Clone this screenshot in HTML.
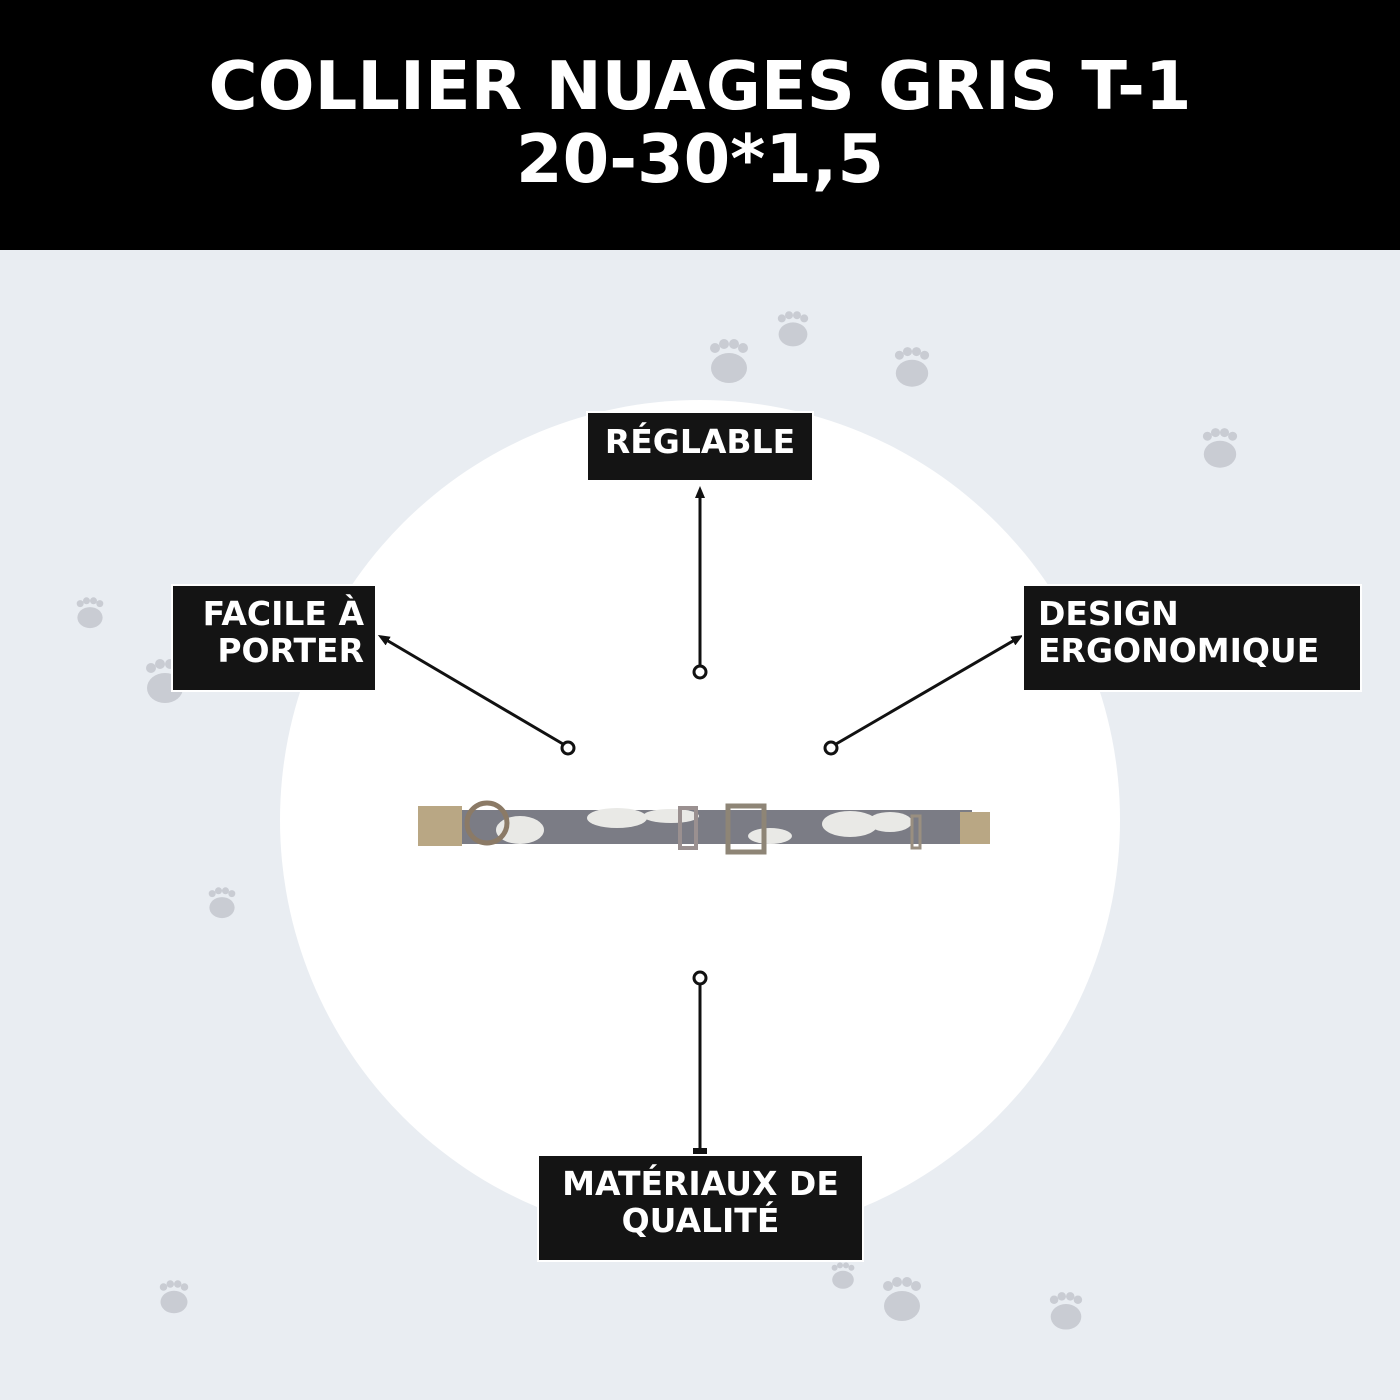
<!DOCTYPE html>
<html><head><meta charset="utf-8"><style>
html,body{margin:0;padding:0}
body{width:1400px;height:1400px;position:relative;background:#e9edf2;overflow:hidden;font-family:"DejaVu Sans","Liberation Sans",sans-serif}
.hdr{position:absolute;left:0;top:0;width:1400px;height:250px;background:#000;color:#fff;text-align:center;font-weight:bold;font-size:67px;line-height:73px;padding-top:50px;box-sizing:border-box}
.box{position:absolute;background:#141414;color:#fff;font-weight:bold;font-size:33px;line-height:37px;outline:2px solid #fff;box-sizing:border-box;white-space:nowrap}
</style></head><body>
<div class="hdr">COLLIER NUAGES GRIS T-1<br>20-30*1,5</div>
<svg width="1400" height="1400" style="position:absolute;left:0;top:0">
<defs>
<g id="paw" fill="#c9ccd3"><ellipse cx="0" cy="8" rx="18" ry="15"/><circle cx="-14" cy="-12" r="5"/><circle cx="-5" cy="-16" r="5"/><circle cx="5" cy="-16" r="5"/><circle cx="14" cy="-12" r="5"/></g>
<marker id="ah" markerUnits="userSpaceOnUse" markerWidth="12" markerHeight="12" refX="6" refY="6" orient="auto"><path d="M0,1 L12,6 L0,11 z" fill="#111"/></marker>
</defs>
<use href="#paw" transform="translate(793,328) scale(0.8)"/>
<use href="#paw" transform="translate(729,360)"/>
<use href="#paw" transform="translate(912,366) scale(0.9)"/>
<use href="#paw" transform="translate(1220,447) scale(0.9)"/>
<use href="#paw" transform="translate(90,612) scale(0.7)"/>
<use href="#paw" transform="translate(165,680) scale(1)"/>
<use href="#paw" transform="translate(222,902) scale(0.7)"/>
<use href="#paw" transform="translate(174,1296) scale(0.75)"/>
<use href="#paw" transform="translate(843,1275) scale(0.6)"/>
<use href="#paw" transform="translate(902,1298) scale(1)"/>
<use href="#paw" transform="translate(1066,1310) scale(0.85)"/>
<circle cx="700" cy="820" r="420" fill="#fff"/>
<g stroke="#111" stroke-width="3" fill="none">
<line x1="700" y1="666" x2="700" y2="492" marker-end="url(#ah)"/>
<circle cx="700" cy="672" r="6"/>
<line x1="563" y1="744" x2="383" y2="638" marker-end="url(#ah)"/>
<circle cx="568" cy="748" r="6"/>
<line x1="836" y1="744" x2="1018" y2="638" marker-end="url(#ah)"/>
<circle cx="831" cy="748" r="6"/>
<line x1="700" y1="984" x2="700" y2="1150"/>
<circle cx="700" cy="978" r="6"/>
</g>
<rect x="693" y="1148" width="14" height="6" fill="#111"/>
<rect x="452" y="810" width="520" height="34" fill="#7b7c85"/>
<g fill="#e9e9e6">
<ellipse cx="520" cy="830" rx="24" ry="14"/><ellipse cx="617" cy="818" rx="30" ry="10"/><ellipse cx="671" cy="816" rx="28" ry="7"/>
<ellipse cx="770" cy="836" rx="22" ry="8"/><ellipse cx="850" cy="824" rx="28" ry="13"/><ellipse cx="890" cy="822" rx="22" ry="10"/>
</g>
<rect x="418" y="806" width="44" height="40" fill="#b9a784"/>
<rect x="960" y="812" width="30" height="32" fill="#b9a784"/>
<circle cx="487" cy="823" r="20" fill="none" stroke="#8b7a66" stroke-width="5"/>
<rect x="680" y="808" width="16" height="40" fill="none" stroke="#9a9090" stroke-width="4"/>
<rect x="728" y="806" width="36" height="46" fill="none" stroke="#8e8576" stroke-width="5"/>
<rect x="912" y="816" width="8" height="32" fill="none" stroke="#9a8f80" stroke-width="3"/>
</svg>
<div class="box" style="left:588px;top:413px;width:224px;height:67px;text-align:center;padding-top:10px">RÉGLABLE</div>
<div class="box" style="left:173px;top:586px;width:202px;height:104px;text-align:right;padding:9px 11px 0 0">FACILE À<br>PORTER</div>
<div class="box" style="left:1024px;top:586px;width:336px;height:104px;text-align:left;padding:9px 0 0 14px">DESIGN<br>ERGONOMIQUE</div>
<div class="box" style="left:539px;top:1156px;width:323px;height:104px;text-align:center;padding-top:9px">MATÉRIAUX DE<br>QUALITÉ</div>
</body></html>
